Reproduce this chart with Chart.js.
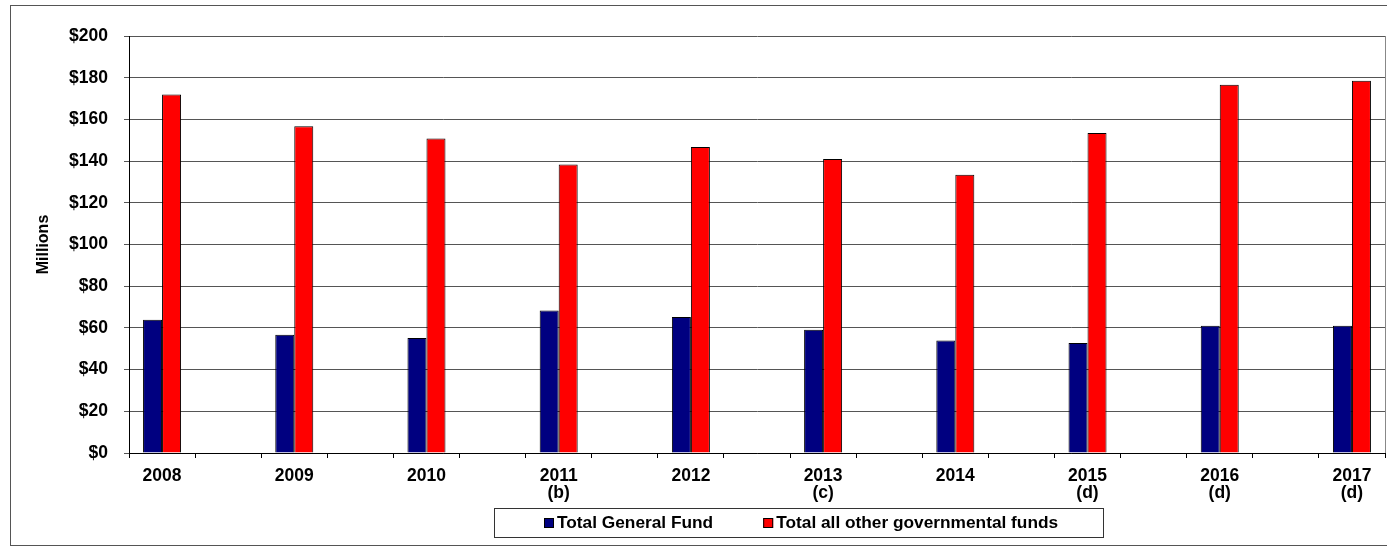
<!DOCTYPE html>
<html>
<head>
<meta charset="utf-8">
<title>Governmental funds</title>
<script src="https://cdn.jsdelivr.net/npm/chart.js@4.4.1/dist/chart.umd.min.js"></script>
<style>
  html, body { margin: 0; padding: 0; background: #fff; }
  canvas { display: block; }
</style>
</head>
<body>
<canvas id="fundsChart" width="1387" height="549"></canvas>
<script>
const fontFamily = '"Liberation Sans", Arial, Helvetica, sans-serif';

// fiscal years; footnote letters go on a second line
const fiscalYears = [
  "2008", "2009", "2010", ["2011", "(b)"], "2012",
  ["2013", "(c)"], "2014", ["2015", "(d)"], ["2016", "(d)"], ["2017", "(d)"],
];
// $ millions
const generalFund = [63.9, 56.7, 55.1, 68.3, 65.2, 59.1, 53.9, 52.8, 61.0, 61.0];
const otherGovFunds = [171.9, 156.7, 150.8, 138.4, 146.8, 141.0, 133.5, 153.5, 176.6, 178.5];

const yMax = 200;
const yStep = 20;

// an empty slot sits between every two years
function withGaps(values, blank) {
  const out = [];
  values.forEach((v, i) => {
    if (i > 0) out.push(blank);
    out.push(v);
  });
  return out;
}

const outerFrame = {
  id: "outerFrame",
  afterDatasetsDraw(chart) {
    const { ctx, chartArea } = chart;
    ctx.save();
    ctx.strokeStyle = "#888";
    ctx.lineWidth = 1;
    ctx.beginPath();
    ctx.moveTo(chartArea.right + 0.5, chartArea.top);
    ctx.lineTo(chartArea.right + 0.5, chartArea.bottom);
    ctx.stroke();
    ctx.restore();
  },
  afterDraw(chart) {
    const { ctx } = chart;
    ctx.save();
    ctx.strokeStyle = "#555";
    ctx.lineWidth = 1;
    ctx.strokeRect(10.5, 5.5, chart.width + 20, 540);
    ctx.restore();
  },
};

const fundLegend = {
  id: "fundLegend",
  afterDraw(chart, args, opts) {
    const { ctx } = chart;
    const sets = chart.data.datasets;
    ctx.save();
    ctx.font = `bold ${opts.fontSize}px ${fontFamily}`;
    const widths = sets.map((d) => ctx.measureText(d.label).width);
    const content = widths.reduce((s, w) => s + opts.box + opts.gap + w, 0)
      + opts.itemGap * (sets.length - 1);
    const frameW = Math.round(opts.padLeft + content + opts.padRight);
    ctx.strokeStyle = "#333";
    ctx.lineWidth = 1;
    ctx.strokeRect(opts.x + 0.5, opts.y + 0.5, frameW, opts.height);

    const cy = opts.y + opts.height / 2;
    let x = opts.x + opts.padLeft;
    sets.forEach((d, i) => {
      const top = Math.round(cy - opts.box / 2);
      ctx.fillStyle = d.backgroundColor;
      ctx.fillRect(x, top, opts.box, opts.box);
      ctx.strokeStyle = "#000";
      ctx.strokeRect(x + 0.5, top + 0.5, opts.box - 1, opts.box - 1);
      x += opts.box + opts.gap;
      ctx.fillStyle = "#000";
      ctx.textBaseline = "middle";
      ctx.textAlign = "left";
      ctx.fillText(d.label, x, cy + 1);
      x += widths[i] + opts.itemGap;
    });
    ctx.restore();
  },
};

new Chart(document.querySelector("#fundsChart"), {
  type: "bar",
  data: {
    labels: withGaps(fiscalYears, ""),
    datasets: [
      {
        label: "Total General Fund",
        data: withGaps(generalFund, null),
        backgroundColor: "#000080",
        borderColor: "#000",
        borderWidth: 1,
      },
      {
        label: "Total all other governmental funds",
        data: withGaps(otherGovFunds, null),
        backgroundColor: "#ff0000",
        borderColor: "#000",
        borderWidth: 1,
      },
    ],
  },
  options: {
    responsive: false,
    animation: false,
    events: [],
    layout: { padding: { left: 30, right: 2, top: 36, bottom: 46 } },
    datasets: { bar: { barPercentage: 1, categoryPercentage: 0.575 } },
    plugins: {
      legend: { display: false },
      tooltip: { enabled: false },
      fundLegend: {
        x: 494, y: 508, height: 29,
        box: 10, gap: 3, itemGap: 50,
        padLeft: 50, padRight: 45, fontSize: 17.3,
      },
    },
    scales: {
      x: {
        afterFit: (scale) => { scale.height = 50; },
        grid: {
          offset: true,
          drawOnChartArea: false,
          drawTicks: true,
          tickLength: 5,
          color: "#000",
        },
        border: { color: "#000", width: 1 },
        ticks: {
          autoSkip: false,
          maxRotation: 0,
          padding: 9,
          color: "#000",
          font: { family: fontFamily, size: 17.5, weight: "bold", lineHeight: 1.0 },
        },
      },
      y: {
        min: 0,
        max: yMax,
        afterFit: (scale) => { scale.width = 99; },
        grid: { color: "#555", tickLength: 5 },
        border: { color: "#000", width: 1 },
        ticks: {
          stepSize: yStep,
          padding: 16,
          color: "#000",
          font: { family: fontFamily, size: 17.5, weight: "bold" },
          callback: (value) => "$" + value,
        },
        title: {
          display: true,
          text: "Millions",
          color: "#000",
          padding: { top: 4, bottom: 0 },
          font: { family: fontFamily, size: 16, weight: "bold" },
        },
      },
    },
  },
  plugins: [outerFrame, fundLegend],
});
</script>
</body>
</html>
